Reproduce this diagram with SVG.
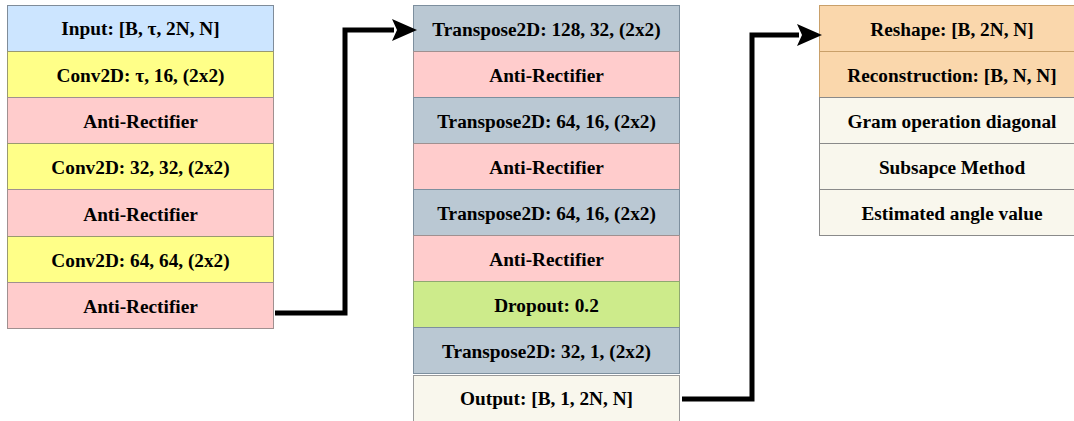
<svg xmlns="http://www.w3.org/2000/svg" width="1074" height="421" viewBox="0 0 1074 421">
<style>
text{font-family:"Liberation Serif","Times New Roman",serif;font-weight:bold;font-size:19.3px;fill:#000;text-anchor:middle;dominant-baseline:central}
rect{stroke-width:1}
.in{fill:#cce5ff;stroke:#7f8c99}
.cv{fill:#ffff88;stroke:#9a9a70}
.ar{fill:#ffcccc;stroke:#a09090}
.tp{fill:#bac8d3;stroke:#7d8f9e}
.dr{fill:#cdeb8b;stroke:#8fa870}
.out{fill:#f9f7ed;stroke:#9a9a9a}
.rs{fill:#fad7ac;stroke:#c9a06a}
.cr{fill:#f9f7ed;stroke:#8a8a8a}
.conn{fill:none;stroke:#000;stroke-width:5}
</style>
<defs>
<marker id="ah" markerWidth="5" markerHeight="5" refX="0.4" refY="2.2" orient="auto" markerUnits="strokeWidth" viewBox="0 0 5 4.4">
<path d="M0,0 L5,2.2 L0,4.4 L1,2.2 Z" fill="#000"/>
</marker>
</defs>
<g id="left">
<g id="n-input"><rect class="in" x="7.5" y="5.5" width="266" height="46"/><text x="140.5" y="28.5">Input: [B, τ, 2N, N]</text></g>
<g id="n-conv1"><rect class="cv" x="7.5" y="51.5" width="266" height="46"/><text x="140.5" y="75">Conv2D: τ, 16, (2x2)</text></g>
<g id="n-ar1"><rect class="ar" x="7.5" y="97.5" width="266" height="46"/><text x="140.5" y="121">Anti-Rectifier</text></g>
<g id="n-conv2"><rect class="cv" x="7.5" y="143.5" width="266" height="46"/><text x="140.5" y="167">Conv2D: 32, 32, (2x2)</text></g>
<g id="n-ar2"><rect class="ar" x="7.5" y="189.5" width="266" height="47"/><text x="140.5" y="214">Anti-Rectifier</text></g>
<g id="n-conv3"><rect class="cv" x="7.5" y="236.5" width="266" height="46"/><text x="140.5" y="260">Conv2D: 64, 64, (2x2)</text></g>
<g id="n-ar3"><rect class="ar" x="7.5" y="282.5" width="266" height="46"/><text x="140.5" y="306">Anti-Rectifier</text></g>
</g>
<g id="middle">
<g id="n-tp1"><rect class="tp" x="413.5" y="5.5" width="266" height="46"/><text x="546.5" y="29">Transpose2D: 128, 32, (2x2)</text></g>
<g id="n-ar4"><rect class="ar" x="413.5" y="51.5" width="266" height="46"/><text x="546.5" y="75">Anti-Rectifier</text></g>
<g id="n-tp2"><rect class="tp" x="413.5" y="97.5" width="266" height="46"/><text x="546.5" y="121">Transpose2D: 64, 16, (2x2)</text></g>
<g id="n-ar5"><rect class="ar" x="413.5" y="143.5" width="266" height="46"/><text x="546.5" y="167">Anti-Rectifier</text></g>
<g id="n-tp3"><rect class="tp" x="413.5" y="189.5" width="266" height="46"/><text x="546.5" y="213">Transpose2D: 64, 16, (2x2)</text></g>
<g id="n-ar6"><rect class="ar" x="413.5" y="235.5" width="266" height="46"/><text x="546.5" y="259">Anti-Rectifier</text></g>
<g id="n-drop"><rect class="dr" x="413.5" y="281.5" width="266" height="46"/><text x="546.5" y="305">Dropout: 0.2</text></g>
<g id="n-tp4"><rect class="tp" x="413.5" y="327.5" width="266" height="46"/><text x="546.5" y="351">Transpose2D: 32, 1, (2x2)</text></g>
<g id="n-out"><rect class="out" x="413.5" y="375.5" width="266" height="46"/><text x="546.5" y="398">Output: [B, 1, 2N, N]</text></g>
</g>
<g id="right">
<g id="n-reshape"><rect class="rs" x="819.5" y="5.5" width="266" height="46"/><text x="952" y="29">Reshape: [B, 2N, N]</text></g>
<g id="n-recon"><rect class="rs" x="819.5" y="51.5" width="266" height="46"/><text x="952" y="75">Reconstruction: [B, N, N]</text></g>
<g id="n-gram"><rect class="cr" x="819.5" y="97.5" width="266" height="46"/><text x="952" y="121">Gram operation diagonal</text></g>
<g id="n-subspace"><rect class="cr" x="819.5" y="143.5" width="266" height="46"/><text x="952" y="167">Subsapce Method</text></g>
<g id="n-est"><rect class="cr" x="819.5" y="189.5" width="266" height="46"/><text x="952" y="213">Estimated angle value</text></g>
</g>
<g id="connectors">
<path class="conn" d="M275,313 H345 V30 H394" marker-end="url(#ah)"/>
<path class="conn" d="M682,399 H752 V35 H799" marker-end="url(#ah)"/>
</g>
</svg>
